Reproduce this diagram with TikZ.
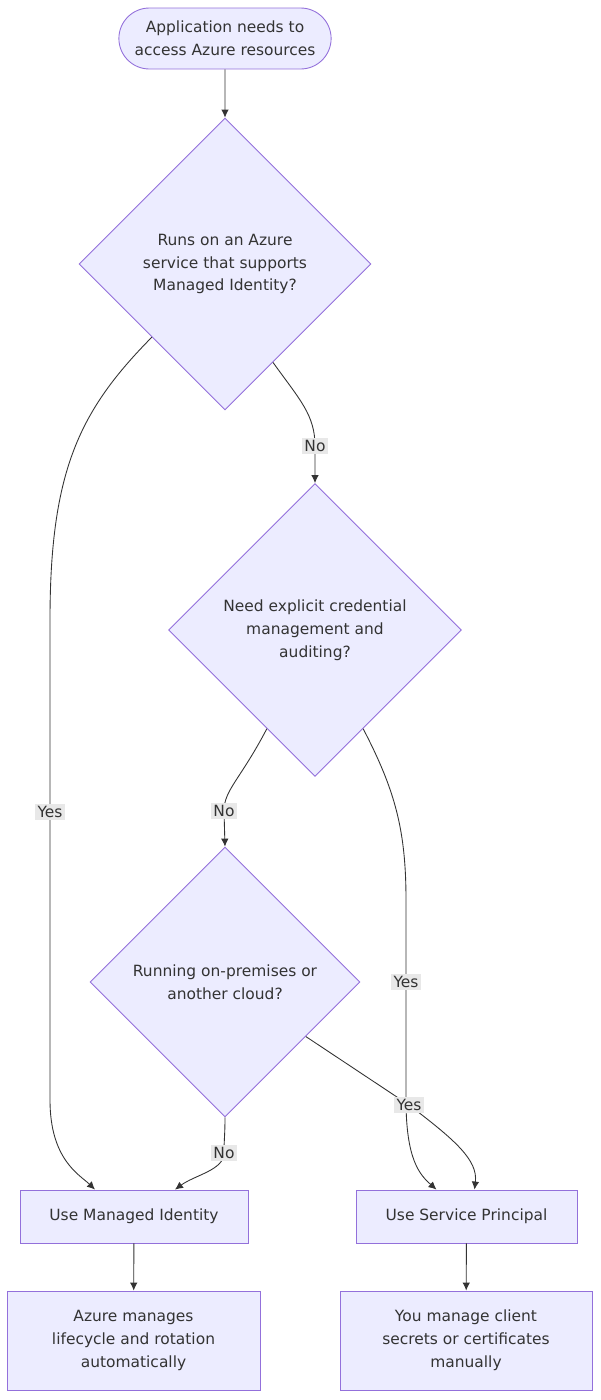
\documentclass[tikz,border=0pt]{standalone}
\usepackage{fontspec}
\setmainfont{DejaVu Sans}
\usepackage{xcolor}
\usepackage{tikz}
\usetikzlibrary{arrows.meta,calc,positioning,shapes.geometric,shapes.misc}
\definecolor{boxfill}{HTML}{ECECFF}
\definecolor{boxline}{HTML}{9370DB}
\definecolor{ink}{HTML}{333333}
\definecolor{lblfill}{HTML}{E8E8E8}
\tikzset{
  base/.style={fill=boxfill,draw=boxline,line width=0.5pt,text=ink,align=center,
    font=\fontsize{8.8}{13}\selectfont},
  startbox/.style={base,rounded rectangle,minimum width=4.48cm,minimum height=1.22cm},
  decide/.style={base,diamond,aspect=1,inner sep=0pt},
  actbox/.style={base,rectangle,minimum height=1.06cm},
  notebox/.style={base,rectangle,minimum height=1.98cm},
  flow/.style={draw=ink,line width=0.5pt,-{Latex[length=1.6mm,width=1.5mm]}},
  lbl/.style={fill=lblfill,text=ink,inner sep=1.2pt,font=\fontsize{8.8}{10}\selectfont}
}

\begin{document}
\begin{tikzpicture}[x=0.02cm,y=-0.02cm]
\useasboundingbox (0,0) rectangle (600,1400);
% nodes
\node[startbox] (app) at (225,38.5) {Application needs to\\access Azure resources};
\node[decide,minimum width=5.84cm,minimum height=5.84cm] (onazure) at (225,264)
  {Runs on an Azure\\service that supports\\Managed Identity?};
\node[decide,minimum width=5.86cm,minimum height=5.86cm] (explicit) at (315,630)
  {Need explicit credential\\management and\\auditing?};
\node[decide,minimum width=5.40cm,minimum height=5.40cm] (onprem) at (225,982)
  {Running on-premises or\\another cloud?};
\node[actbox,minimum width=4.56cm] (usemi) at (134,1216.5) {Use Managed Identity};
\node[actbox,minimum width=4.42cm] (usesp) at (466.5,1216.5) {Use Service Principal};
\node[notebox,minimum width=5.06cm] (azmanage) at (133.5,1340.5)
  {Azure manages\\lifecycle and rotation\\automatically};
\node[notebox,minimum width=5.04cm] (youmanage) at (466,1340.5)
  {You manage client\\secrets or certificates\\manually};
% connectors
\draw[flow] (app) -- (onazure);
\draw[flow] (onazure.south west) .. controls (80,410) and (50,470) .. (50,620)
  -- (50,1100) node[lbl,pos=0.4]{Yes}
  .. controls (50,1160) and (80,1175) .. ($(usemi.north)+(-39,0)$);
\draw[flow] (onazure.-64) .. controls (300,400) and (315,415) .. (315,446)
  node[lbl]{No} -- (explicit.north);
\draw[flow] (explicit.-116) .. controls (240,780) and (224,790) .. (224,811)
  node[lbl]{No} -- (onprem.north);
\draw[flow] (explicit.-64) .. controls (395,790) and (406,830) .. (406,900)
  -- (406,1100) node[lbl,pos=0.41]{Yes}
  .. controls (406,1160) and (420,1175) .. ($(usesp.north)+(-30,0)$);
\draw[flow] (onprem.south) .. controls (225,1135) and (224,1140) .. (224,1153)
  node[lbl]{No} .. controls (224,1170) and (195,1175) .. ($(usemi.north)+(41,0)$);
\draw[flow] (onprem.-34) -- (409,1105) node[lbl]{Yes}
  .. controls (455,1140) and (478,1160) .. ($(usesp.north)+(8,0)$);
\draw[flow] (usemi) -- (azmanage);
\draw[flow] (usesp) -- (youmanage);
\end{tikzpicture}
\end{document}
